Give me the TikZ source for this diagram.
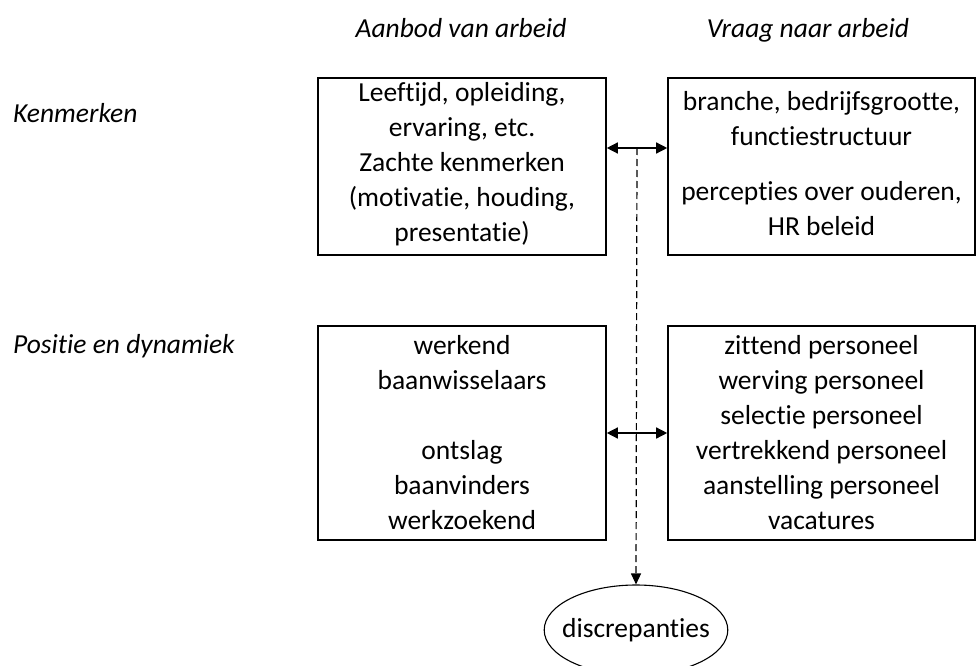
\documentclass[tikz,border=0pt]{standalone}
\usepackage{fontspec}
\setmainfont{Carlito}[Ligatures=NoCommon]
\usetikzlibrary{shapes.geometric,arrows.meta,calc}
\begin{document}
\begin{tikzpicture}[x=1pt,y=-1pt,
  every node/.style={font=\fontsize{27.5}{35}\selectfont},
  box/.style={draw,line width=1.6pt,inner sep=0pt,minimum width=#1},
  txt/.style={align=center,inner sep=0pt},
  lbl/.style={font=\fontsize{27.5}{35}\selectfont\itshape,inner sep=0pt},
  arr/.style={line width=1.4pt,{Triangle[length=11pt,width=11pt]}-{Triangle[length=11pt,width=11pt]}},
  dsh/.style={line width=1.2pt,dash pattern=on 7pt off 4pt,-{Triangle[length=11pt,width=10pt]}}
]
\useasboundingbox (0,0) rectangle (977,666);
\node[lbl,anchor=base] (h1) at (461,38) {Aanbod van arbeid};
\node[lbl,anchor=base] (h2) at (808,38) {Vraag naar arbeid};
\node[lbl,anchor=base west] (k) at (13,123) {Kenmerken};
\node[lbl,anchor=base west] (p) at (13,353) {Positie en dynamiek};

\node[box=288pt,minimum height=177pt] (tl) at (462,166.5) {};
\node[txt] (tlt) at ($(tl.center)+(0,-2)$)
  {Leeftijd, opleiding,\\ ervaring, etc.\\ Zachte kenmerken\\ (motivatie, houding,\\ presentatie)};
\node[box=307pt,minimum height=177pt] (tr) at (821.5,166.5) {};
\node[txt] (trt) at ($(tr.center)+(0,-3)$)
  {branche, bedrijfsgrootte,\\ functiestructuur\\[20pt] percepties over ouderen,\\ HR beleid};
\node[box=288pt,minimum height=214pt,txt] (bl) at (462,433)
  {werkend\\ baanwisselaars\\ \mbox{}\\ ontslag\\ baanvinders\\ werkzoekend};
\node[box=307pt,minimum height=214pt,txt] (br) at (821.5,433)
  {zittend personeel\\ werving personeel\\ selectie personeel\\ vertrekkend personeel\\ aanstelling personeel\\ vacatures};

\node[draw,ellipse,line width=1.1pt,minimum height=90pt,inner xsep=-9pt,inner ysep=0pt] (disc) at (636,630) {discrepanties};

\draw[arr] ($(tl.east)+(0,-18.5)$) -- ($(tr.west)+(0,-18.5)$) coordinate[pos=0.5] (ds);
\draw[arr] (bl.east) -- (br.west);
\draw[dsh] (ds) -- (disc.north);
\end{tikzpicture}
\end{document}
